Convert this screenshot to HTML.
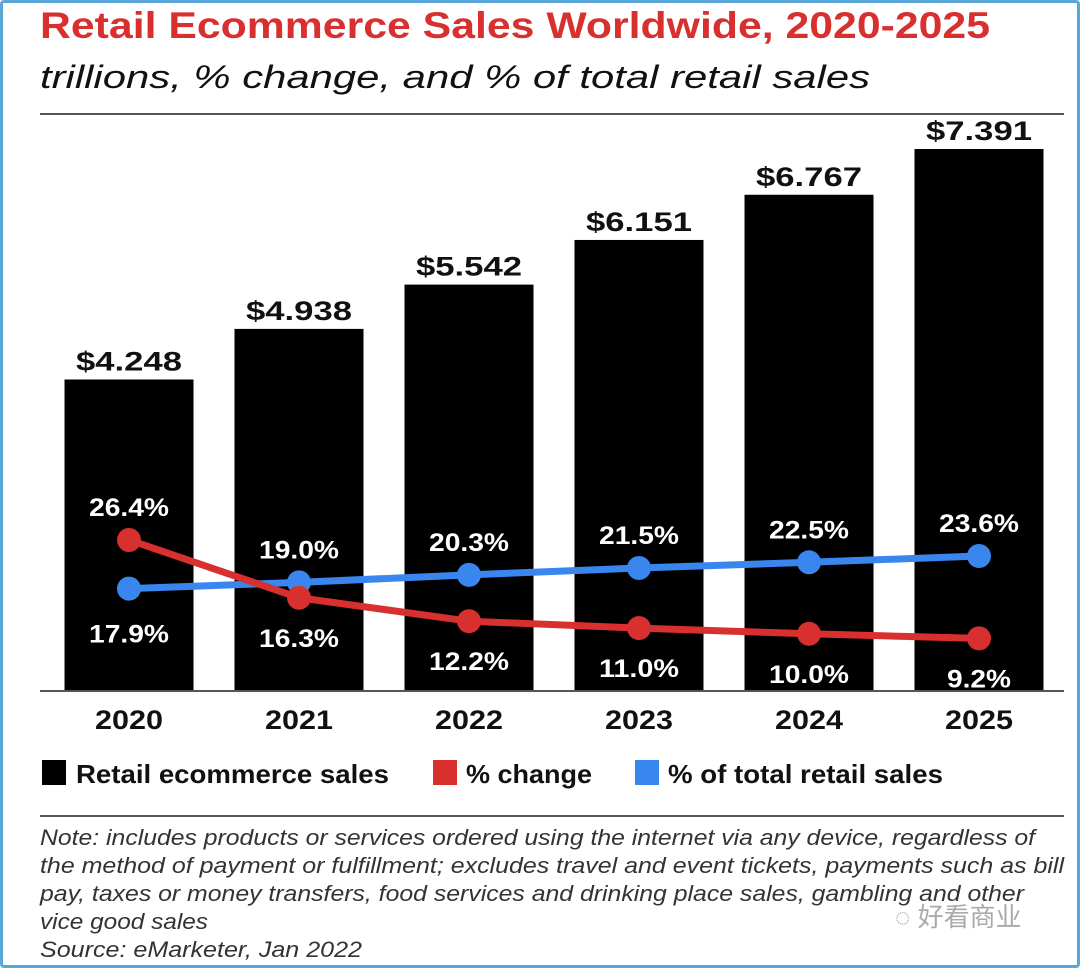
<!DOCTYPE html>
<html><head><meta charset="utf-8"><style>
html,body{margin:0;padding:0;background:#fff;}
#wrap{position:relative;width:1080px;height:968px;box-sizing:border-box;border:3px solid #5aa6d8;border-radius:4px;overflow:hidden;background:#fff;}
svg{position:absolute;left:-3px;top:-3px;}
text{font-family:"Liberation Sans","Noto Sans CJK SC",sans-serif;}
</style></head><body>
<div id="wrap">
<svg id="chart" width="1080" height="968" viewBox="0 0 1080 968">
<text x="40" y="38" font-size="37" font-weight="bold" fill="#d8302e" textLength="950" lengthAdjust="spacingAndGlyphs">Retail Ecommerce Sales Worldwide, 2020-2025</text>
<text x="40" y="88" font-size="32" font-style="italic" fill="#111" textLength="830" lengthAdjust="spacingAndGlyphs">trillions, % change, and % of total retail sales</text>
<line x1="40" y1="114" x2="1064" y2="114" stroke="#555" stroke-width="2"/>
<g id="bars"></g>
<line x1="40" y1="691" x2="1064" y2="691" stroke="#555" stroke-width="2"/>
<g id="lines"></g>
<g id="xlabels"></g>
<g>
<rect x="42" y="760" width="24" height="25" fill="#000"/>
<text x="76" y="783" font-size="26" font-weight="bold" fill="#111" textLength="313" lengthAdjust="spacingAndGlyphs">Retail ecommerce sales</text>
<rect x="433" y="760" width="24" height="25" fill="#d8302e"/>
<text x="466" y="783" font-size="26" font-weight="bold" fill="#111" textLength="126" lengthAdjust="spacingAndGlyphs">% change</text>
<rect x="635" y="760" width="24" height="25" fill="#3a86ef"/>
<text x="668" y="783" font-size="26" font-weight="bold" fill="#111" textLength="275" lengthAdjust="spacingAndGlyphs">% of total retail sales</text>
</g>
<line x1="40" y1="816" x2="1064" y2="816" stroke="#555" stroke-width="2"/>
<g font-size="22" font-style="italic" fill="#333">
<text x="40" y="845" textLength="995" lengthAdjust="spacingAndGlyphs">Note: includes products or services ordered using the internet via any device, regardless of</text>
<text x="40" y="873" textLength="1024" lengthAdjust="spacingAndGlyphs">the method of payment or fulfillment; excludes travel and event tickets, payments such as bill</text>
<text x="40" y="901" textLength="984" lengthAdjust="spacingAndGlyphs">pay, taxes or money transfers, food services and drinking place sales, gambling and other</text>
<text x="40" y="929" textLength="168" lengthAdjust="spacingAndGlyphs">vice good sales</text>
<text x="40" y="957" textLength="322" lengthAdjust="spacingAndGlyphs">Source: eMarketer, Jan 2022</text>
</g>
<text x="895" y="926" font-size="26" fill="#aaa">◌ 好看商业</text>
</svg>
</div>
<script>
const categories=["2020","2021","2022","2023","2024","2025"];
const salesValues=[4.248,4.938,5.542,6.151,6.767,7.391];
const salesLabels=["$4.248","$4.938","$5.542","$6.151","$6.767","$7.391"];
const changeValues=[26.4,16.3,12.2,11.0,10.0,9.2];
const shareValues=[17.9,19.0,20.3,21.5,22.5,23.6];
const NS="http://www.w3.org/2000/svg";
const base=691;
function xc(i){return 129+i*170;}
function yBar(v){return base-v*73.33;}
function yPct(v){return base-v*5.72;}
function mk(tag,attrs,parent,txt){const e=document.createElementNS(NS,tag);for(const k in attrs)e.setAttribute(k,attrs[k]);if(txt!==undefined)e.textContent=txt;parent.appendChild(e);return e;}
const bars=document.getElementById('bars'),lines=document.getElementById('lines'),xl=document.getElementById('xlabels');
categories.forEach((c,i)=>{
 const r=mk('rect',{x:xc(i)-64.5,y:yBar(salesValues[i]),width:129,height:base-yBar(salesValues[i]),fill:'#000'},bars);
 
 
 const t=mk('text',{x:xc(i),y:yBar(salesValues[i])-9,'text-anchor':'middle','font-size':27,'font-weight':'bold',fill:'#111',textLength:106,lengthAdjust:'spacingAndGlyphs'},bars,salesLabels[i]);
 
 
 const x=mk('text',{x:xc(i),y:729,'text-anchor':'middle','font-size':27,'font-weight':'bold',fill:'#111',textLength:68,lengthAdjust:'spacingAndGlyphs'},xl,c);
 
 
});
function series(vals,color,name){
 const p=mk('polyline',{points:vals.map((v,i)=>xc(i)+','+yPct(v)).join(' '),fill:'none',stroke:color,'stroke-width':7,'stroke-linejoin':'round'},lines);
 
 
 vals.forEach((v,i)=>{
  const d=mk('circle',{cx:xc(i),cy:yPct(v),r:12,fill:color},lines);
  
  
 });
}
series(shareValues,'#3a86ef','share');
series(changeValues,'#d8302e','change');
categories.forEach((c,i)=>{
 const sy=yPct(shareValues[i]),cy=yPct(changeValues[i]);
 const shareAbove=i>0;
 const s1=shareValues[i].toFixed(1)+'%',s2=changeValues[i].toFixed(1)+'%';
 const t1=mk('text',{x:xc(i),y:shareAbove?sy-24:sy+54,'text-anchor':'middle','font-size':25,'font-weight':'bold',fill:'#fff',textLength:s1.length*16,lengthAdjust:'spacingAndGlyphs'},lines,s1);
 
 
 const t2=mk('text',{x:xc(i),y:shareAbove?cy+49:cy-24,'text-anchor':'middle','font-size':25,'font-weight':'bold',fill:'#fff',textLength:s2.length*16,lengthAdjust:'spacingAndGlyphs'},lines,s2);
 
 
});
</script>
</body></html>
